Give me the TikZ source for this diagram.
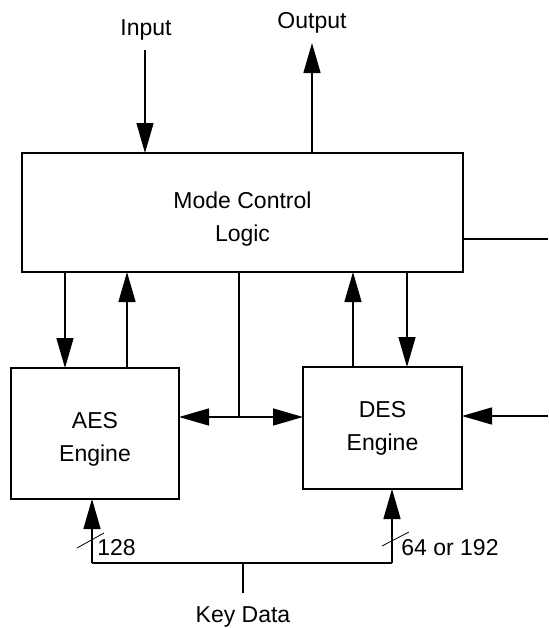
\documentclass[tikz,border=0pt]{standalone}
\usepackage{fontspec}
\setmainfont{Liberation Sans}
\usetikzlibrary{arrows.meta}

\begin{document}
\begin{tikzpicture}[x=0.5pt, y=-0.5pt,
    block/.style={draw, line width=0.7pt, inner sep=0pt, outer sep=0pt},
    wire/.style={line width=0.7pt},
    arr/.style={wire, -{Triangle[length=15pt, width=8.5pt]}},
    txt/.style={font=\fontsize{11.5}{16.5}\selectfont, inner sep=0pt, align=center},
    bus/.style={line width=0.4pt}]
    \useasboundingbox (0,0) rectangle (548,628);

    % 1. Bloques
    \node[block, minimum width=220.5pt, minimum height=59.5pt] (mcl) at (242.5,212.5) {};
    \node[block, minimum width=84pt, minimum height=65.5pt] (aes) at (95,433.5) {};
    \node[block, minimum width=79.5pt, minimum height=61pt] (des) at (382.5,428) {};
    \node[txt] (mcltxt) at ([yshift=-3.5pt]mcl.center) {Mode Control\\Logic};
    \node[txt] (aestxt) at ([yshift=-3pt]aes.center) {AES\\Engine};
    \node[txt] (destxt) at (des.center) {DES\\Engine};

    % 2. Entrada y salida
    \node[txt] (inlbl) at (146,30) {Input};
    \node[txt] (outlbl) at (312,23) {Output};
    \coordinate (in) at (145,50);
    \coordinate (out) at (312,43);
    \draw[arr] (in) -- (mcl.north -| in);
    \draw[arr] (mcl.north -| out) -- (out);
    \coordinate (mcr) at (548,239);
    \draw[wire] (mcr -| mcl.east) -- (mcr);

    % 3. Conexiones MCL <-> motores
    \coordinate (aesdn) at (65,0);
    \coordinate (aesup) at (127,0);
    \coordinate (desup) at (353,0);
    \coordinate (desdn) at (407,0);
    \draw[arr] (mcl.south -| aesdn) -- (aes.north -| aesdn);
    \draw[arr] (aes.north -| aesup) -- (mcl.south -| aesup);
    \draw[arr] (des.north -| desup) -- (mcl.south -| desup);
    \draw[arr] (mcl.south -| desdn) -- (des.north -| desdn);

    % Bus entre AES y DES
    \coordinate (mid) at (239,417);
    \draw[wire, {Triangle[length=15pt, width=8.5pt]}-{Triangle[length=15pt, width=8.5pt]}]
        (aes.east |- mid) -- (des.west |- mid);
    \draw[wire] (mcl.south -| mid) -- (mid);
    \coordinate (desr) at (548,416);
    \draw[arr] (desr) -- (des.east |- desr);

    % 4. Datos de clave
    \coordinate (key) at (243,593);
    \coordinate (kl) at (92,563);
    \coordinate (kr) at (392,563);
    \draw[wire] (key) -- (key |- kl);
    \draw[wire] (kl) -- (kr);
    \draw[arr] (kl) -- (aes.south -| kl);
    \draw[arr] (kr) -- (des.south -| kr);
    \node[txt] (keylbl) at (243,617) {Key Data};

    % Marcas de ancho
    \draw[bus] (77,548) -- (104,533);
    \draw[bus] (382,546) -- (409,532);
    \node[txt, anchor=west] (w128) at (97,548) {128};
    \node[txt, anchor=west] (w64) at (401,548) {64 or 192};
\end{tikzpicture}
\end{document}
